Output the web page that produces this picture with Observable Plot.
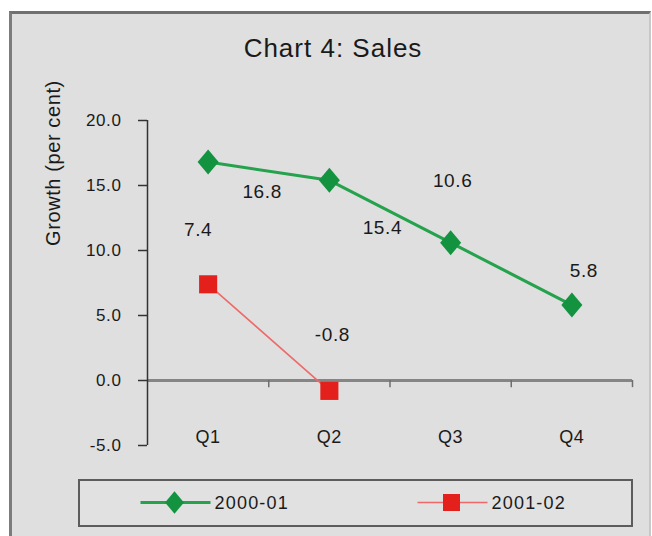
<!DOCTYPE html>
<html>
<head>
<meta charset="utf-8">
<script src="https://cdn.jsdelivr.net/npm/d3@7"></script>
<script src="https://cdn.jsdelivr.net/npm/@observablehq/plot@0.6"></script>
<style>
  html, body { margin: 0; padding: 0; background: #fff; width: 652px; height: 536px; overflow: hidden;
    font-family: "Liberation Sans", Arial, sans-serif; color: #1a1a1a; }
  #frame { position: absolute; left: 9px; top: 11px; width: 642px; height: 540px; box-sizing: border-box;
    background: #dfdfdf; border-top: 3px solid #707070; border-left: 3px solid #7c7c7c; border-right: 2px solid #c8c8c8; }
  #title { position: absolute; left: 0; width: 666px; top: 34px; text-align: center;
    font-size: 26px; line-height: 28px; letter-spacing: 1px; }
  #chart { position: absolute; left: 0; top: 0; }
  #chart svg text { letter-spacing: 0.6px; }
  #legend { position: absolute; left: 78px; top: 479px; width: 555px; height: 48px; box-sizing: border-box;
    border: 2.5px solid #5c5c5c; background: #e1e1e1; }
  #legend text { letter-spacing: 1.2px; }
</style>
</head>
<body>
<div id="frame"></div>
<div id="title">Chart 4: Sales</div>
<div id="chart"></div>
<div id="legend"></div>
<script>
// Quarterly sales growth (per cent)
const quarters = ["Q1", "Q2", "Q3", "Q4"];
const growth200001 = [16.8, 15.4, 10.6, 5.8];
const growth200102 = [7.4, -0.8];
const seriesNames = ["2000-01", "2001-02"];
const yTicks = [-5, 0, 5, 10, 15, 20];

// Series styling
const green = "#13923f", greenLine = "#24a24c";
const red = "#e3201c", redLine = "#ee6a6a";
const ink = "#1a1a1a";

// A diamond taller than it is wide
const tallDiamond = {
  draw(ctx, size) {
    const r = Math.sqrt(size / Math.PI);
    const hw = r * 1.05, hh = r * 1.25;
    ctx.moveTo(0, -hh);
    ctx.lineTo(hw, 0);
    ctx.lineTo(0, hh);
    ctx.lineTo(-hw, 0);
    ctx.closePath();
  }
};

const toRows = (name, values) => values.map((v, i) => ({series: name, quarter: quarters[i], qi: i, value: v}));
const rows0001 = toRows(seriesNames[0], growth200001);
const rows0102 = toRows(seriesNames[1], growth200102);

// Label nudges (pixels) so value labels sit clear of the lines
const nudge0001 = [[54, 30], [53, 48], [2, -62], [12, -34]];
const nudge0102 = [[-10, -54], [3, -56]];

const X = d => d.qi + 0.5;

const valueLabels = (rows, nudges) => rows.map((r, i) =>
  Plot.text([r], {x: X, y: "value", text: d => d.value.toFixed(1), dx: nudges[i][0], dy: nudges[i][1],
    fontSize: 19, fill: ink}));

const chart = Plot.plot({
  width: 652,
  height: 470,
  marginLeft: 147,
  marginRight: 20,
  marginTop: 120,
  marginBottom: 25,
  style: {background: "transparent", fontFamily: "'Liberation Sans', Arial, sans-serif", color: ink},
  x: {domain: [0, quarters.length], axis: null},
  y: {domain: [-5, 20], axis: null},
  marks: [
    Plot.ruleY([0], {stroke: "#858585", strokeWidth: 3}),
    Plot.ruleX(d3.range(1, quarters.length + 1), {y1: 0, y2: -0.55, stroke: "#6e6e6e", strokeWidth: 1.5}),
    Plot.ruleX([0], {stroke: "#333", strokeWidth: 1.5}),
    Plot.axisY(yTicks, {tickSize: 9, tickPadding: 17, tickFormat: d => d.toFixed(1), fontSize: 17,
      stroke: "#333", strokeWidth: 1.5, label: null}),
    Plot.text(["Growth (per cent)"], {frameAnchor: "left", rotate: -90, dx: -94, dy: -37, fontSize: 20,
      fill: ink}),
    Plot.text(quarters, {x: (d, i) => i + 0.5, frameAnchor: "bottom", dy: -3, lineAnchor: "bottom",
      fontSize: 18, fill: ink}),
    Plot.line(rows0001, {x: X, y: "value", stroke: greenLine, strokeWidth: 3}),
    Plot.line(rows0102, {x: X, y: "value", stroke: redLine, strokeWidth: 1.6}),
    Plot.dot(rows0001, {x: X, y: "value", symbol: tallDiamond, r: 10, fill: green, stroke: "none"}),
    Plot.dot(rows0102, {x: X, y: "value", symbol: "square", r: 10.2, fill: red, stroke: "none"}),
    ...valueLabels(rows0001, nudge0001),
    ...valueLabels(rows0102, nudge0102)
  ]
});
document.getElementById("chart").appendChild(chart);

// Legend
const legendItems = [
  {name: seriesNames[0], line: greenLine, fill: green, symbol: tallDiamond, size: 9 * 9 * Math.PI},
  {name: seriesNames[1], line: redLine, fill: red, symbol: d3.symbolSquare, size: 17 * 17}
];
const lg = d3.select("#legend").append("svg").attr("width", 550).attr("height", 43);
const item = lg.selectAll("g").data(legendItems).join("g")
  .attr("transform", (d, i) => `translate(${60.5 + i * 277},21.5)`);
item.append("line").attr("x1", 0).attr("x2", 70).attr("y1", 0).attr("y2", 0)
  .attr("stroke", d => d.line).attr("stroke-width", (d, i) => i === 0 ? 3 : 1.6);
item.append("path").attr("transform", "translate(34,0)")
  .attr("d", d => d3.symbol(d.symbol, d.size)()).attr("fill", d => d.fill);
item.append("text").attr("x", 74).attr("y", 0).attr("dy", "0.35em")
  .attr("font-size", 18).attr("fill", ink).text(d => d.name);
</script>
</body>
</html>
